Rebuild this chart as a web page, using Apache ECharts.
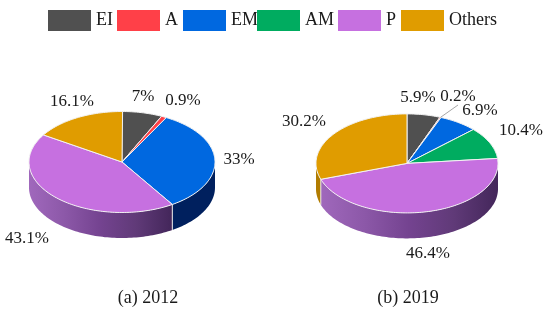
<!DOCTYPE html>
<html><head><meta charset="utf-8">
<style>html,body{margin:0;padding:0;background:#fff}#c{width:550px;height:316px}</style>
<script src="https://cdn.jsdelivr.net/npm/echarts@6/dist/echarts.min.js"></script>
</head><body><div id="c"></div>
<script>
const categories = ['EI','A','EM','AM','P','Others'];
const captions = ['(a) 2012','(b) 2019'];
const shares2012 = [7,0.9,33,0,43.1,16.1];
const shares2019 = [5.9,0.2,6.9,10.4,46.4,30.2];
const colors = ['#505050','#ff4048','#0068e0','#00ac60','#c670e0','#e09c00'];
const wallColors = ['#333333','#a02028','#00205e','#006838',null,'#b17c00'];
const purpleWall = ['#a068bc','#8c58a8','#744390','#603a78','#43265a'];
const legendLeft = [48,117,183,257,338,401];
const pies = [
  {cx:122,cy:162,rx:93,ry:50.5,depth:25.5,values:shares2012,wallX:[29,172],
   labels:[[143,97],[183,101],[239,160],null,[27,239],[72,102]]},
  {cx:407,cy:163.4,rx:91,ry:49.5,depth:25.5,values:shares2019,wallX:[320,498],
   labels:[[418,98],[458,97],[480,111],[521,131],[428,254],[304,122]]}
];
const leader = {pie:1,cat:1,to:[458,105]};
const FONT = '"Liberation Serif","DejaVu Serif",serif';
const FS = 17;

function pt(p,deg,dy){const t=deg*Math.PI/180;return [p.cx+p.rx*Math.sin(t),p.cy-p.ry*Math.cos(t)+(dy||0)];}
function arc(p,a,b,dy){const n=Math.max(2,Math.ceil(Math.abs(b-a)/1.5));const o=[];for(let i=0;i<=n;i++)o.push(pt(p,a+(b-a)*i/n,dy));return o;}

function renderSlice(catIdx){
  return function(params,api){
    const pi=api.value(0), v=api.value(1), p=pies[pi];
    const kids=[];
    if(v>0){
      let s=0;for(let i=0;i<catIdx;i++)s+=p.values[i];
      const a=s*3.6,b=(s+v)*3.6;
      const wa=Math.max(a,90),wb=Math.min(b,270);
      if(wb>wa){
        const fill=catIdx===4?{type:'linear',global:true,x:p.wallX[0],y:0,x2:p.wallX[1],y2:0,
          colorStops:purpleWall.map((c,i)=>({offset:i/(purpleWall.length-1),color:c}))}:wallColors[catIdx];
        kids.push({type:'polygon',z2:1,shape:{points:arc(p,wa,wb,0).concat(arc(p,wb,wa,p.depth))},style:{fill:fill}});
        if(b<270&&b>90){const e=pt(p,b);kids.push({type:'line',z2:2,shape:{x1:e[0],y1:e[1],x2:e[0],y2:e[1]+p.depth},style:{stroke:'#e8e8e8',lineWidth:1}});}
      }
      kids.push({type:'polygon',z2:3,shape:{points:[[p.cx,p.cy]].concat(arc(p,a,b,0))},
        style:{fill:colors[catIdx],stroke:'#f2f2f2',lineWidth:1,lineJoin:'round'}});
      const lp=p.labels[catIdx];
      if(lp){kids.push({type:'text',z2:5,style:{x:lp[0],y:lp[1],text:v+'%',fill:'#1a1a1a',font:FS+'px '+FONT,align:'center',verticalAlign:'middle'}});}
      if(leader.pie===pi&&leader.cat===catIdx){const e=pt(p,(a+b)/2);
        kids.push({type:'line',z2:4,shape:{x1:e[0],y1:e[1],x2:leader.to[0],y2:leader.to[1]},style:{stroke:'#a6a6a6',lineWidth:1}});}
    }
    return {type:'group',children:kids};
  };
}

const option={
  animation:false,
  backgroundColor:'#fff',
  title:captions.map((t,i)=>({text:t,left:[148,408][i],top:289,padding:0,textAlign:'center',
    textStyle:{fontFamily:FONT,fontSize:18,fontWeight:'normal',color:'#1a1a1a'}})),
  legend:categories.map((c,i)=>({data:[c],left:legendLeft[i],top:10,padding:0,icon:'rect',itemWidth:43,itemHeight:21,
    selectedMode:false,textStyle:{fontFamily:FONT,fontSize:18,color:'#1a1a1a'}})),
  series:categories.map((c,i)=>({
    type:'custom',name:c,coordinateSystem:'none',silent:true,
    itemStyle:{color:colors[i]},
    renderItem:renderSlice(i),
    data:[[0,shares2012[i]],[1,shares2019[i]]]
  }))
};
echarts.init(document.getElementById('c'),null,{renderer:'canvas'}).setOption(option);
</script></body></html>
